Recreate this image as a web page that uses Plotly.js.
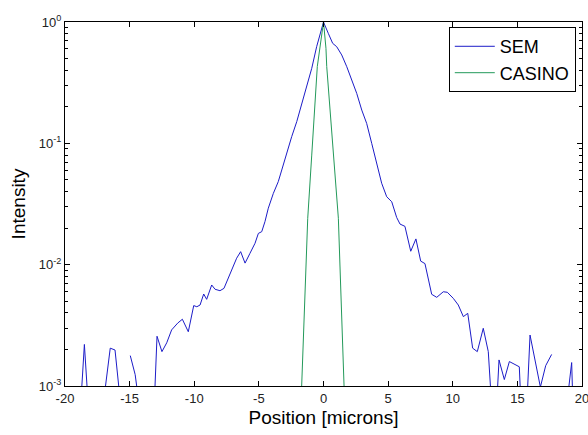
<!DOCTYPE html>
<html>
<head>
<meta charset="utf-8">
<script src="https://cdn.plot.ly/plotly-3.0.1.min.js"></script>
<style>
  html, body { margin: 0; padding: 0; background: #ffffff; }
  #chart { width: 588px; height: 435px; }
</style>
</head>
<body>
<div id="chart"></div>
<script>
// SEM measured profile (position in microns, normalised intensity); null = zero (not drawn on log axis)
const semX = [-18.87, -18.5, -18.12, -17.7, -17.3, -16.92, -16.5, -16.13, -15.75, -15.35,
  -14.95, -14.57, -14.18, -13.8, -13.27, -12.88, -12.5, -12.13, -11.75, -11.28,
  -10.92, -10.46, -10.04, -9.8, -9.55, -9.27, -9.04, -8.65, -8.39, -8.01,
  -7.7, -7.23, -6.72, -6.41, -6.07, -5.69, -5.3, -5.04, -4.78, -4.53,
  -4.27, -3.88, -3.5, -3.23, -2.85, -2.46, -2.07, -1.69, -1.3, -0.91,
  -0.53, -0.27, 0.0, 0.37, 0.71, 1.02, 1.41, 1.8, 2.18, 2.57,
  2.96, 3.34, 3.73, 4.12, 4.5, 4.89, 5.28, 5.66, 5.92, 6.3,
  6.75, 7.15, 7.52, 7.85, 8.37, 8.76, 9.27, 9.58, 10.04, 10.43,
  10.82, 11.16, 11.54, 11.9, 12.36, 12.75, 13.22, 13.58, 13.99, 14.38,
  14.74, 15.15, 15.5, 15.98, 16.78, 17.19, 17.65, 18.05, 18.4, 18.75,
  19.2, 19.45, 19.8];
const semY = [0.0005, 0.0022, 0.0005, null, null, 0.0009, 0.00205, 0.00198, 0.0008, null,
  0.00178, 0.00124, 0.0006, null, 0.00024, 0.00257, 0.00192, 0.00227, 0.0029, 0.0033,
  0.00355, 0.0028, 0.0046, 0.0045, 0.00465, 0.00573, 0.00518, 0.0068, 0.00627, 0.0061,
  0.00638, 0.0085, 0.0113, 0.0128, 0.0103, 0.0124, 0.015, 0.0181, 0.0187, 0.0226,
  0.0292, 0.0387, 0.0483, 0.0603, 0.0828, 0.1135, 0.151, 0.207, 0.293, 0.415,
  0.626, 0.807, 1.0, 0.807, 0.667, 0.626, 0.535, 0.428, 0.333, 0.258,
  0.188, 0.146, 0.1, 0.0685, 0.0469, 0.0363, 0.033, 0.0245, 0.0216, 0.0207,
  0.0129, 0.0163, 0.0107, 0.0102, 0.0057, 0.00538, 0.00598, 0.00592, 0.00528, 0.00465,
  0.00373, 0.00397, 0.00205, 0.00192, 0.00299, 0.00192, 0.0003, 0.00164, 0.00113, 0.00159,
  0.00152, 0.00144, 0.0002, 0.00263, 0.00098, 0.00147, 0.00182, null, null, 0.0006,
  0.00156, 0.0002, null];

// CASINO simulated profile
const casinoX = [-1.9, -1.69, -1.22, -0.91, -0.48, 0.0, 0.19, 0.25, 0.76, 1.15, 1.59, 1.8];
const casinoY = [0.00024, 0.001, 0.0241, 0.08, 0.43, 1.0, 0.607, 0.43, 0.08, 0.0241, 0.001, 0.00022];

// Axis ticks
const xTickVals = [-20, -15, -10, -5, 0, 5, 10, 15, 20];
const xTickText = ["-20", "-15", "-10", "-5", "0", "5", "10", "15", "20"];
const yTickVals = [0.001, 0.01, 0.1, 1];
const yTickText = ["10<sup>-3</sup>", "10<sup>-2</sup>", "10<sup>-1</sup>", "10<sup>0</sup>"];
const yMinorVals = [0.002, 0.003, 0.004, 0.005, 0.006, 0.007, 0.008, 0.009,
  0.02, 0.03, 0.04, 0.05, 0.06, 0.07, 0.08, 0.09,
  0.2, 0.3, 0.4, 0.5, 0.6, 0.7, 0.8, 0.9];

const FONT = "Liberation Sans, Arial, sans-serif";

const traces = [
  { x: semX, y: semY, type: "scatter", mode: "lines", name: "SEM",
    line: { color: "#1c1cc8", width: 1 }, connectgaps: false },
  { x: casinoX, y: casinoY, type: "scatter", mode: "lines", name: "CASINO",
    line: { color: "#23995a", width: 1 } }
];

const layout = {
  width: 588, height: 435,
  margin: { l: 65, r: 6, t: 22, b: 49, pad: 0 },
  paper_bgcolor: "#ffffff", plot_bgcolor: "#ffffff",
  font: { family: FONT, color: "#000000" },
  showlegend: true,
  legend: {
    x: 0.988, y: 0.986, xanchor: "right", yanchor: "top",
    bgcolor: "#ffffff", bordercolor: "#000000", borderwidth: 1,
    font: { family: FONT, size: 18, color: "#000000" },
    itemwidth: 40, tracegroupgap: 0
  },
  xaxis: {
    range: [-20, 20], autorange: false,
    tickmode: "array", tickvals: xTickVals, ticktext: xTickText,
    ticks: "inside", ticklen: 5, tickcolor: "#000000", tickwidth: 1,
    showline: true, linecolor: "#000000", linewidth: 1, mirror: "allticks",
    showgrid: false, zeroline: false, ticklabeloverflow: "allow",
    tickfont: { family: FONT, size: 13, color: "#222222" },
    title: { text: "Position [microns]", font: { family: FONT, size: 19, color: "#000000" }, standoff: 6 }
  },
  yaxis: {
    type: "log", range: [-3, 0], autorange: false,
    tickmode: "array", tickvals: yTickVals, ticktext: yTickText,
    ticks: "inside", ticklen: 5, tickcolor: "#000000", tickwidth: 1,
    showline: true, linecolor: "#000000", linewidth: 1, mirror: "allticks",
    showgrid: false, zeroline: false, ticklabeloverflow: "allow",
    tickfont: { family: FONT, size: 13, color: "#222222" },
    minor: { tickmode: "array", tickvals: yMinorVals, ticks: "inside", ticklen: 3,
             tickcolor: "#000000", tickwidth: 1, showgrid: false },
    title: { text: "Intensity", font: { family: FONT, size: 19, color: "#000000" }, standoff: 8 }
  }
};

Plotly.newPlot("chart", traces, layout, { staticPlot: true, displayModeBar: false });
</script>
</body>
</html>
